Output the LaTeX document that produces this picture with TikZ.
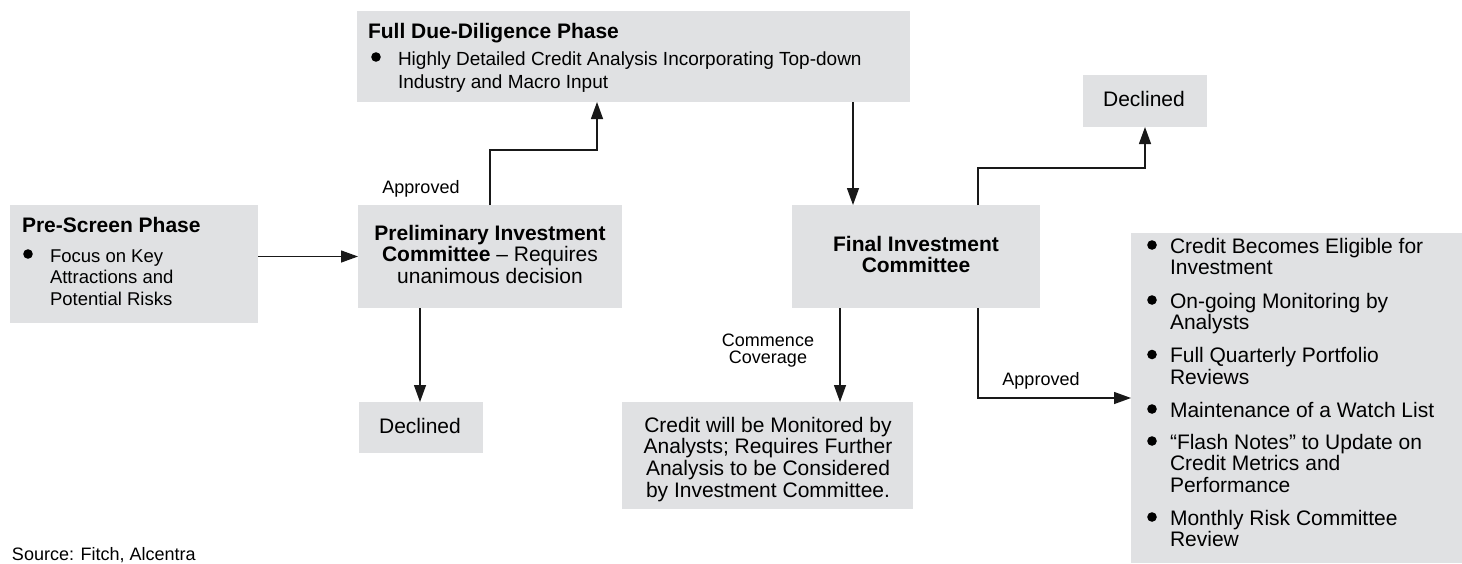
\documentclass[tikz,border=0pt]{standalone}
\usepackage{fontspec}
\setmainfont{Liberation Sans}
\usetikzlibrary{arrows.meta}
\definecolor{boxgray}{RGB}{224,225,227}
\definecolor{linec}{RGB}{25,25,25}
\begin{document}
\begin{tikzpicture}[x=1pt,y=-1pt,
  box/.style={fill=boxgray, draw=none, rectangle, inner sep=0pt, outer sep=0pt, anchor=north west},
  lbl/.style={inner sep=0pt, outer sep=0pt},
  fA/.style={font=\fontsize{21}{21.5}\selectfont},
  fAb/.style={font=\fontsize{21}{21.5}\selectfont\bfseries},
  fB/.style={font=\fontsize{18.5}{21.5}\selectfont},
  fD/.style={font=\fontsize{19}{23}\selectfont},
  fS/.style={font=\fontsize{18}{17.5}\selectfont},
  arr/.style={draw=linec, line width=1.3pt, -{Triangle[length=17pt,width=12pt]}},
  dot/.style={fill=black}
]
\clip (0,0) rectangle (1462,563);
\fill[white] (0,0) rectangle (1462,563);

% boxes
\node[box, minimum width=248pt, minimum height=118pt] (pre) at (10,205) {};
\node[box, minimum width=553pt, minimum height=91pt] (dd) at (357,11) {};
\node[box, minimum width=264pt, minimum height=103pt] (prelim) at (358,205) {};
\node[box, minimum width=124pt, minimum height=51pt] (declL) at (359,402) {};
\node[box, minimum width=248pt, minimum height=103pt] (final) at (792,205) {};
\node[box, minimum width=124pt, minimum height=52pt] (declR) at (1083,75) {};
\node[box, minimum width=291pt, minimum height=107pt] (credit) at (622,402) {};
\node[box, minimum width=331pt, minimum height=330pt] (list) at (1131,233) {};

% pre-screen
\node[lbl, fAb, anchor=base west] (preT) at (22,232) {Pre-Screen Phase};
\fill[dot] (28,254) circle[radius=4.8pt];
\node[lbl, fB, anchor=base west] (preB) at (50,262) {\begin{tabular}[t]{@{}l@{}}Focus on Key\\Attractions and\\Potential Risks\end{tabular}};

% full due diligence
\node[lbl, fAb, anchor=base west] (ddT) at (368,38) {Full Due-Diligence Phase};
\fill[dot] (376,57) circle[radius=4.8pt];
\node[lbl, fD, anchor=base west] (ddB) at (398,65) {\begin{tabular}[t]{@{}l@{}}Highly Detailed Credit Analysis Incorporating Top-down\\Industry and Macro Input\end{tabular}};

% preliminary
\node[lbl, fA, anchor=base] (prelimT) at (490,240) {\begin{tabular}[t]{@{}c@{}}\textbf{Preliminary Investment}\\\textbf{Committee} – Requires\\unanimous decision\end{tabular}};

% declined
\node[lbl, fA, anchor=base] (declLT) at (420,433) {Declined};
\node[lbl, fA, anchor=base] (declRT) at (1144,106) {Declined};

% final
\node[lbl, fAb, anchor=base] (finalT) at (916,251) {\begin{tabular}[t]{@{}c@{}}Final Investment\\Committee\end{tabular}};

% credit monitored
\node[lbl, fA, anchor=base] (creditT) at (768,432) {\begin{tabular}[t]{@{}c@{}}Credit will be Monitored by\\Analysts; Requires Further\\Analysis to be Considered\\by Investment Committee.\end{tabular}};

% labels
\node[lbl, fS, anchor=base] (appL) at (421,193) {Approved};
\node[lbl, fS, anchor=base] (appR) at (1041,385) {Approved};
\node[lbl, fS, anchor=base] (comm) at (768,346) {\begin{tabular}[t]{@{}c@{}}Commence\\Coverage\end{tabular}};

% list
\foreach \yb in {253,308,362.5,417,449,525} \fill[dot] (1152,\yb-8) circle[radius=4.8pt];
\node[lbl, fA, anchor=base west] (it1) at (1170,253) {\begin{tabular}[t]{@{}l@{}}Credit Becomes Eligible for\\Investment\end{tabular}};
\node[lbl, fA, anchor=base west] (it2) at (1170,308) {\begin{tabular}[t]{@{}l@{}}On-going Monitoring by\\Analysts\end{tabular}};
\node[lbl, fA, anchor=base west] (it3) at (1170,362.5) {\begin{tabular}[t]{@{}l@{}}Full Quarterly Portfolio\\Reviews\end{tabular}};
\node[lbl, fA, anchor=base west] (it4) at (1170,417) {Maintenance of a Watch List};
\node[lbl, fA, anchor=base west] (it5) at (1170,449) {\begin{tabular}[t]{@{}l@{}}“Flash Notes” to Update on\\Credit Metrics and\\Performance\end{tabular}};
\node[lbl, fA, anchor=base west] (it6) at (1170,525) {\begin{tabular}[t]{@{}l@{}}Monthly Risk Committee\\Review\end{tabular}};

% source
\node[lbl, fS, anchor=base west] (src) at (12,560) {Source: Fitch, Alcentra};

% connectors
\draw[arr] (pre.east |- prelim.west) -- (prelim.west);
\draw[arr] (prelim.north) -- ++(0,-55) -| ([xshift=-36.5pt]dd.south);
\draw[arr] ([xshift=-70pt]prelim.south) -- ([xshift=-70pt]prelim.south |- declL.north);
\draw[arr] ([xshift=219.5pt]dd.south) -- ([xshift=219.5pt]dd.south |- final.north);
\draw[arr] ([xshift=62pt]final.north) -- ++(0,-37) -| (declR.south);
\draw[arr] ([xshift=-76pt]final.south) -- ([xshift=-76pt]final.south |- credit.north);
\draw[arr] ([xshift=62pt]final.south) |- (list.west);
\end{tikzpicture}
\end{document}
